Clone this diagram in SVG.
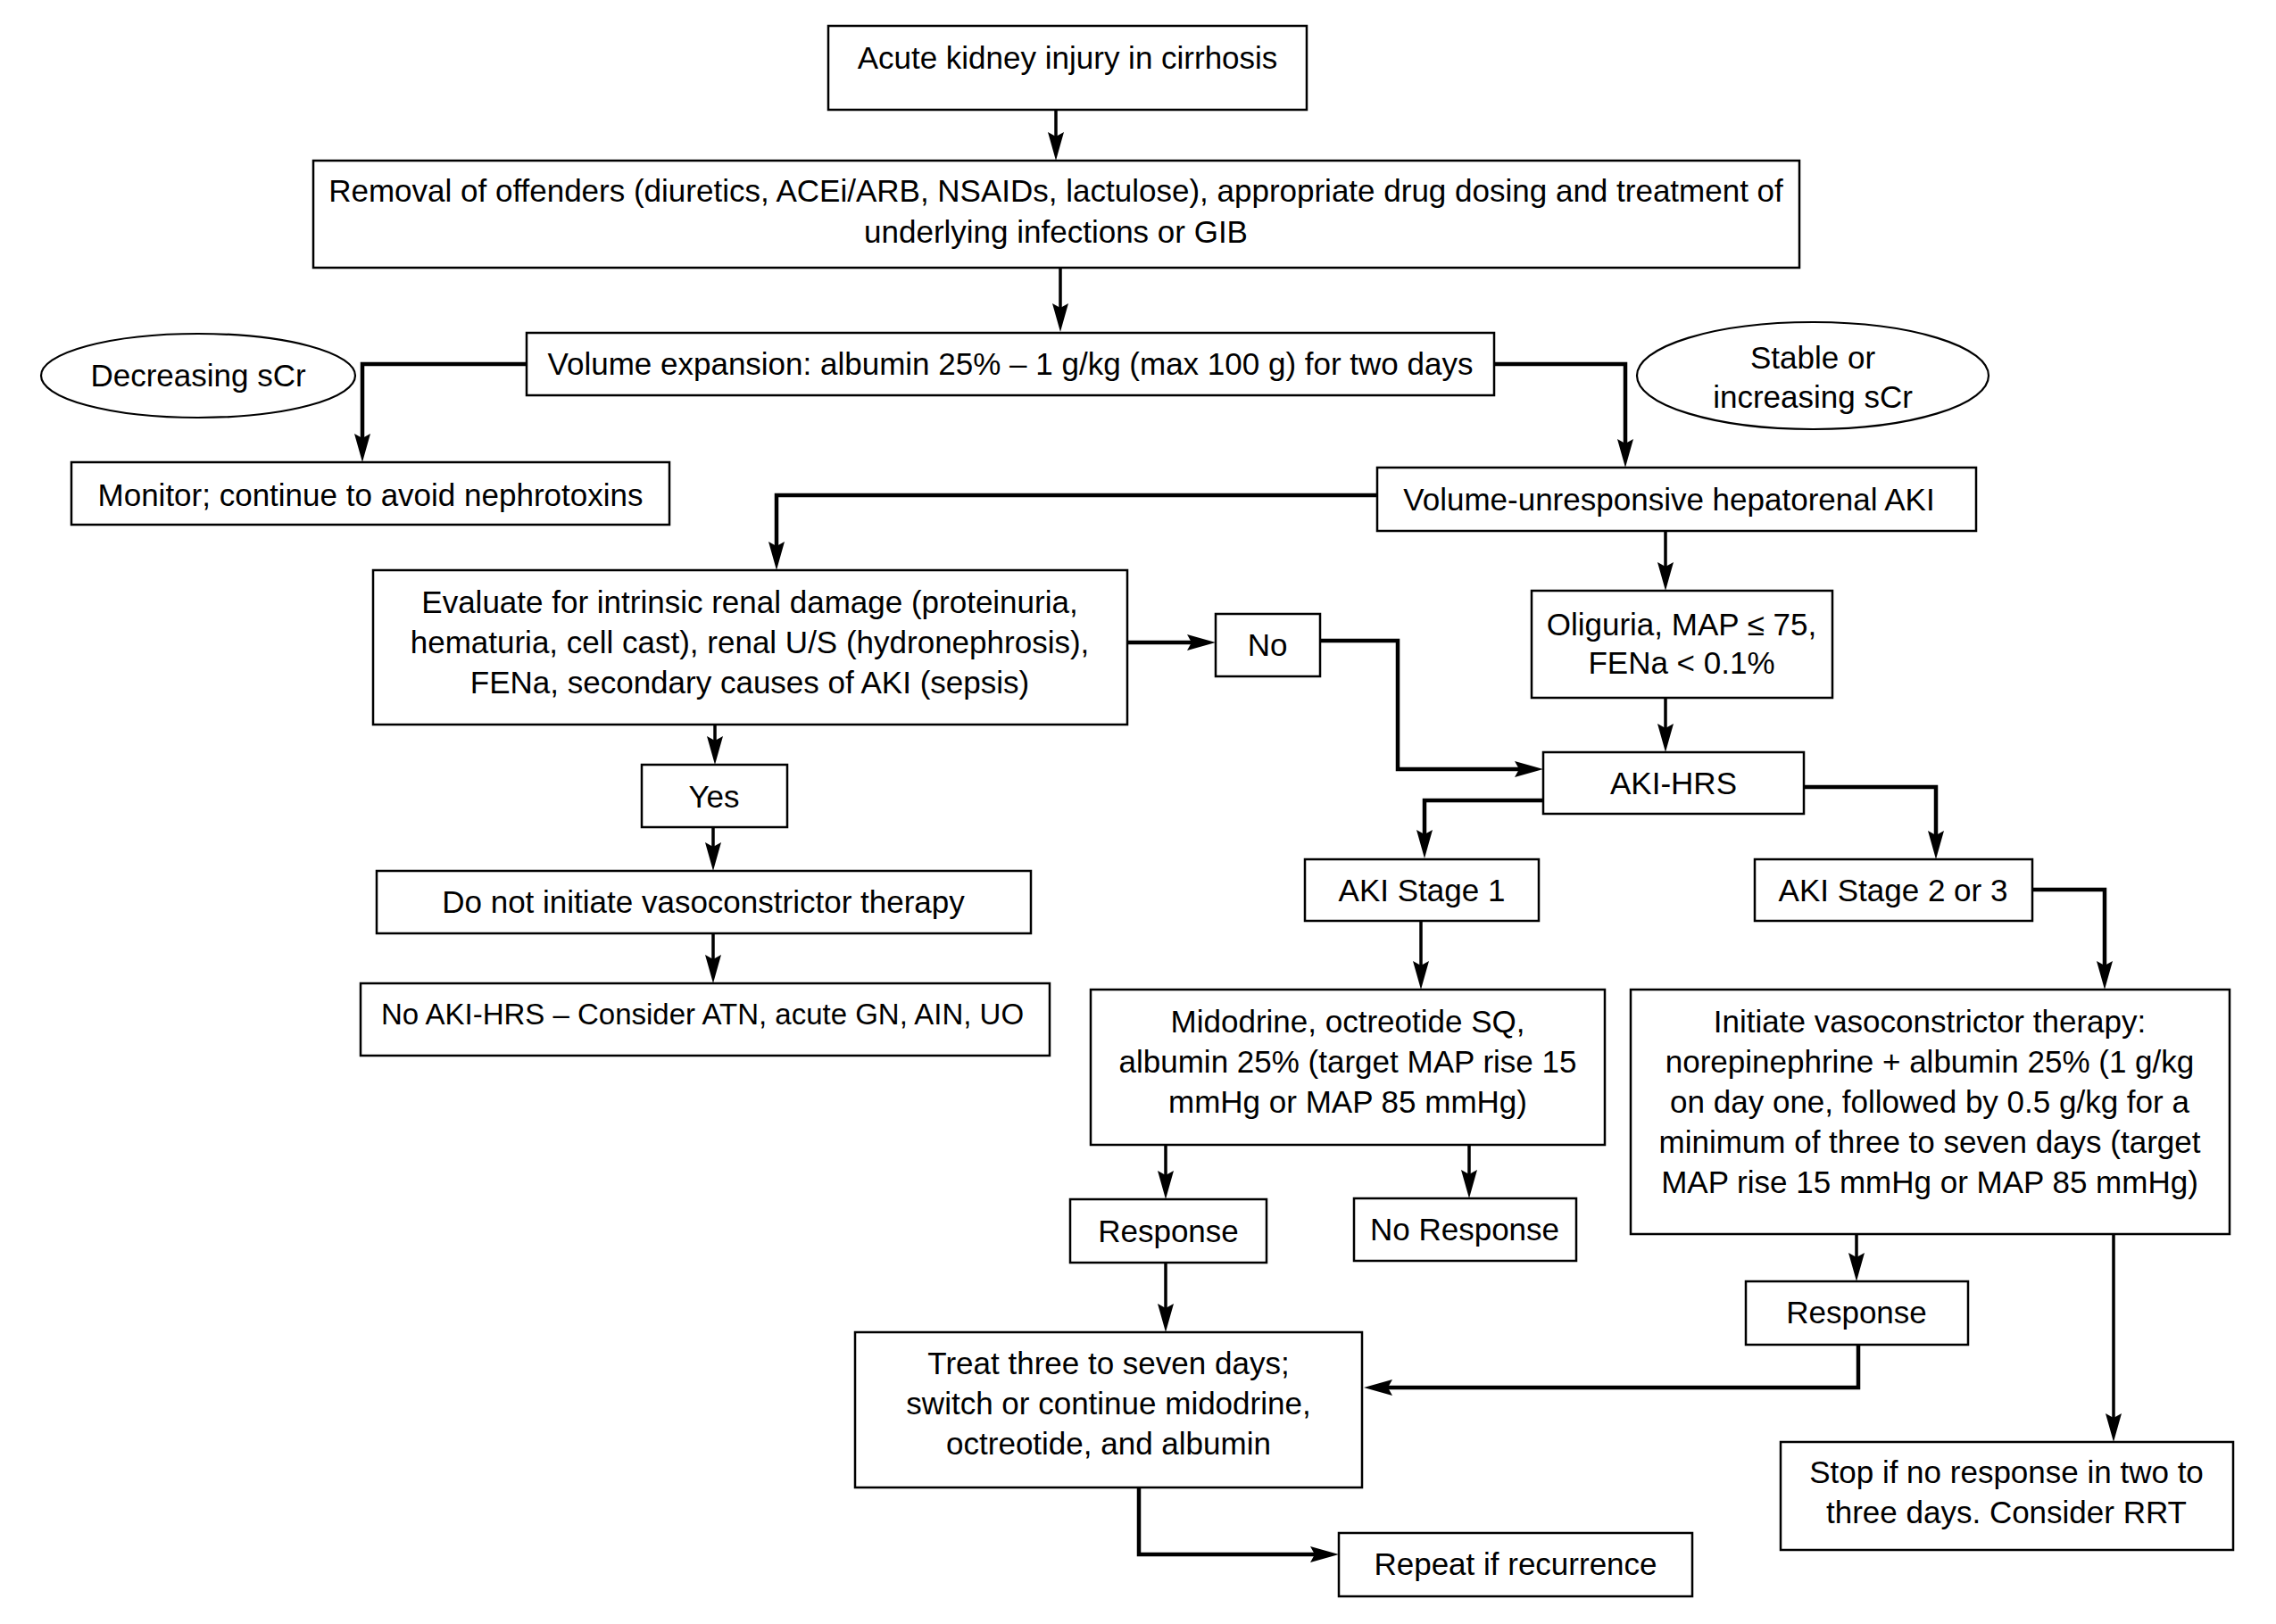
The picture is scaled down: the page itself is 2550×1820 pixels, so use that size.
<svg xmlns="http://www.w3.org/2000/svg" width="2550" height="1820" viewBox="0 0 2550 1820">
<style>
.box{fill:#fff;stroke:#000;stroke-width:2.5}
.ell{fill:#fff;stroke:#000;stroke-width:2.2}
.t{font-family:"Liberation Sans",Arial,sans-serif;font-size:35px;fill:#000;text-anchor:middle}
.c{fill:none;stroke:#000;stroke-width:3.5;marker-end:url(#ah)}
.e{fill:none;stroke:#000;stroke-width:4.5;marker-end:url(#ah)}
</style>
<defs>
<marker id="ah" markerUnits="userSpaceOnUse" orient="auto" refX="0" refY="0" markerWidth="40" markerHeight="24" overflow="visible">
<path d="M24,0 L-8,-9 L-3,0 L-8,9 Z" fill="#000"/>
</marker>
</defs>
<rect width="2550" height="1820" fill="#fff"/>
<g id="connectors">
<path class="c" d="M1183,123 V156"/>
<path class="c" d="M1188,300 V348"/>
<path class="e" d="M590,408 H406 V494"/>
<path class="e" d="M1674,408 H1821 V500"/>
<path class="e" d="M1543,555 H870 V615"/>
<path class="c" d="M1866,595 V638"/>
<path class="c" d="M1866,782 V819"/>
<path class="e" d="M1263,720 H1338"/>
<path class="e" d="M1479,718 H1566 V862 H1705"/>
<path class="c" d="M801,812 V833"/>
<path class="c" d="M799,927 V952"/>
<path class="c" d="M799,1046 V1078"/>
<path class="e" d="M1729,897 H1596 V938"/>
<path class="e" d="M2021,882 H2169 V939"/>
<path class="c" d="M1592,1032 V1085"/>
<path class="e" d="M2277,997 H2358 V1085"/>
<path class="c" d="M1306,1283 V1320"/>
<path class="c" d="M1646,1283 V1319"/>
<path class="c" d="M1306,1415 V1469"/>
<path class="c" d="M2080,1383 V1412"/>
<path class="e" d="M2082,1507 V1555 H1552"/>
<path class="c" d="M2368,1383 V1592"/>
<path class="e" d="M1276,1667 V1742 H1476"/>
</g>
<g id="n-aki-cirrhosis"><rect class="box" x="928" y="29" width="536" height="94"/><text class="t" x="1196" y="77">Acute kidney injury in cirrhosis</text></g>
<g id="n-removal"><rect class="box" x="351" y="180" width="1665" height="120"/><text class="t" x="1183" y="226">Removal of offenders (diuretics, ACEi/ARB, NSAIDs, lactulose), appropriate drug dosing and treatment of</text><text class="t" x="1183" y="272">underlying infections or GIB</text></g>
<g id="n-volume"><rect class="box" x="590" y="373" width="1084" height="70"/><text class="t" x="1132" y="420">Volume expansion: albumin 25% – 1 g/kg (max 100 g) for two days</text></g>
<g id="n-decreasing"><ellipse class="ell" cx="222" cy="421" rx="176" ry="47"/><text class="t" x="222" y="433">Decreasing sCr</text></g>
<g id="n-stable"><ellipse class="ell" cx="2031" cy="421" rx="197" ry="60"/><text class="t" x="2031" y="413">Stable or</text><text class="t" x="2031" y="457">increasing sCr</text></g>
<g id="n-monitor"><rect class="box" x="80" y="518" width="670" height="70"/><text class="t" x="415" y="567">Monitor; continue to avoid nephrotoxins</text></g>
<g id="n-volume-unresponsive"><rect class="box" x="1543" y="524" width="671" height="71"/><text class="t" x="1870" y="572">Volume-unresponsive hepatorenal AKI</text></g>
<g id="n-evaluate"><rect class="box" x="418" y="639" width="845" height="173"/><text class="t" x="840" y="687">Evaluate for intrinsic renal damage (proteinuria,</text><text class="t" x="840" y="732">hematuria, cell cast), renal U/S (hydronephrosis),</text><text class="t" x="840" y="777">FENa, secondary causes of AKI (sepsis)</text></g>
<g id="n-no"><rect class="box" x="1362" y="688" width="117" height="70"/><text class="t" x="1420" y="735">No</text></g>
<g id="n-oliguria"><rect class="box" x="1716" y="662" width="337" height="120"/><text class="t" x="1884" y="712">Oliguria, MAP ≤ 75,</text><text class="t" x="1884" y="755">FENa &lt; 0.1%</text></g>
<g id="n-yes"><rect class="box" x="719" y="857" width="163" height="70"/><text class="t" x="800" y="905">Yes</text></g>
<g id="n-aki-hrs"><rect class="box" x="1729" y="843" width="292" height="69"/><text class="t" x="1875" y="890">AKI-HRS</text></g>
<g id="n-do-not"><rect class="box" x="422" y="976" width="733" height="70"/><text class="t" x="788" y="1023">Do not initiate vasoconstrictor therapy</text></g>
<g id="n-stage1"><rect class="box" x="1462" y="963" width="262" height="69"/><text class="t" x="1593" y="1010">AKI Stage 1</text></g>
<g id="n-stage23"><rect class="box" x="1966" y="963" width="311" height="69"/><text class="t" x="2121" y="1010">AKI Stage 2 or 3</text></g>
<g id="n-no-aki-hrs"><rect class="box" x="404" y="1102" width="772" height="81"/><text class="t" x="787" y="1148" style="font-size:33px">No AKI-HRS – Consider ATN, acute GN, AIN, UO</text></g>
<g id="n-midodrine"><rect class="box" x="1222" y="1109" width="576" height="174"/><text class="t" x="1510" y="1157">Midodrine, octreotide SQ,</text><text class="t" x="1510" y="1202">albumin 25% (target MAP rise 15</text><text class="t" x="1510" y="1247">mmHg or MAP 85 mmHg)</text></g>
<g id="n-initiate"><rect class="box" x="1827" y="1109" width="671" height="274"/><text class="t" x="2162" y="1157">Initiate vasoconstrictor therapy:</text><text class="t" x="2162" y="1202">norepinephrine + albumin 25% (1 g/kg</text><text class="t" x="2162" y="1247">on day one, followed by 0.5 g/kg for a</text><text class="t" x="2162" y="1292">minimum of three to seven days (target</text><text class="t" x="2162" y="1337">MAP rise 15 mmHg or MAP 85 mmHg)</text></g>
<g id="n-response1"><rect class="box" x="1199" y="1344" width="220" height="71"/><text class="t" x="1309" y="1392">Response</text></g>
<g id="n-no-response"><rect class="box" x="1517" y="1343" width="249" height="70"/><text class="t" x="1641" y="1390">No Response</text></g>
<g id="n-response2"><rect class="box" x="1956" y="1436" width="249" height="71"/><text class="t" x="2080" y="1483">Response</text></g>
<g id="n-treat"><rect class="box" x="958" y="1493" width="568" height="174"/><text class="t" x="1242" y="1540">Treat three to seven days;</text><text class="t" x="1242" y="1585">switch or continue midodrine,</text><text class="t" x="1242" y="1630">octreotide, and albumin</text></g>
<g id="n-stop"><rect class="box" x="1995" y="1616" width="507" height="121"/><text class="t" x="2248" y="1662">Stop if no response in two to</text><text class="t" x="2248" y="1707">three days. Consider RRT</text></g>
<g id="n-repeat"><rect class="box" x="1500" y="1718" width="396" height="71"/><text class="t" x="1698" y="1765">Repeat if recurrence</text></g>
</svg>
